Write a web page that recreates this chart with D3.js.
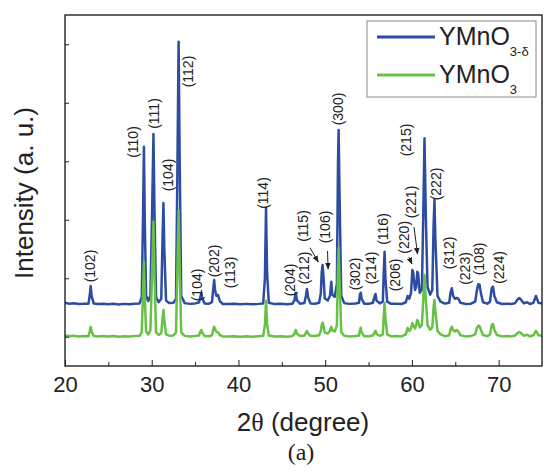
<!DOCTYPE html>
<html>
<head>
  <meta charset='utf-8'>
  <title>XRD YMnO3</title>
  <script src="https://cdnjs.cloudflare.com/ajax/libs/d3/7.8.5/d3.min.js"></script>
  <style>
    body { margin: 0; background: #fff; }
    text { font-family: "Liberation Sans", Arial, sans-serif; fill: #222; }
  </style>
</head>
<body>
  <svg width="544" height="473" id="chart"></svg>
  <script>

    // 2theta, intensity (a.u., already offset for stacking)
    const ymnoDelta = [
      [20.0,1080],[20.5,1065],[21.0,1072],[21.6,1058],[22.2,1066],[22.7,1062],
      [22.85,1200],[22.96,1367],[23.08,1190],[23.3,1070],
      [23.8,1058],[24.4,1066],[25.0,1055],[25.6,1064],[26.2,1052],[26.8,1062],[27.4,1056],[28.0,1066],[28.6,1070],
      [28.85,1180],[29.0,2600],[29.1,3749],[29.2,2500],[29.35,1200],
      [29.6,1110],[29.85,1200],[30.05,2700],[30.2,3966],[30.32,2600],[30.5,1180],
      [30.8,1090],[31.1,1150],[31.25,2200],[31.35,2786],[31.45,2000],[31.65,1120],
      [32.0,1075],[32.5,1080],[32.8,1150],[32.95,3200],[33.1,5544],[33.22,3600],[33.4,1200],
      [33.8,1075],[34.4,1062],[35.0,1070],[35.45,1085],[35.6,1180],[35.72,1248],[35.85,1150],[36.1,1070],
      [36.6,1066],[36.95,1090],[37.08,1300],[37.2,1470],[37.3,1300],[37.45,1200],[37.65,1214],[37.85,1110],[38.2,1060],
      [38.8,1058],[39.5,1064],[40.2,1056],[40.9,1062],[41.6,1055],[42.3,1062],[42.85,1070],[43.05,1500],[43.18,2701],[43.3,1600],[43.5,1080],
      [44.2,1058],[44.9,1064],[45.6,1055],[46.2,1064],[46.45,1120],[46.6,1253],[46.75,1120],[47.1,1066],
      [47.6,1075],[47.78,1200],[47.9,1316],[48.02,1180],[48.3,1070],[48.8,1065],[49.3,1080],
      [49.5,1250],[49.6,1600],[49.7,1726],[49.82,1500],[49.95,1160],[50.3,1120],
      [50.55,1200],[50.7,1441],[50.82,1220],[51.1,1180],[51.35,1400],[51.48,3500],[51.55,4034],[51.65,3000],[51.85,1200],
      [52.2,1075],[52.8,1062],[53.5,1068],[53.9,1080],[54.0,1220],[54.1,1253],[54.2,1150],[54.5,1066],
      [55.0,1062],[55.5,1080],[55.72,1200],[55.8,1231],[55.92,1120],[56.3,1070],[56.65,1100],[56.75,1600],[56.85,1954],[56.95,1500],[57.15,1100],
      [57.6,1062],[58.2,1066],[58.8,1060],[59.3,1090],[59.5,1197],[59.7,1150],[59.9,1250],[60.05,1641],[60.15,1600],[60.35,1300],[60.5,1350],
      [60.62,1612],[60.72,1580],[60.9,1250],[61.15,1300],[61.3,2500],[61.45,3893],[61.6,2600],[61.8,1350],[62.1,1220],[62.35,1300],[62.5,2400],[62.6,2838],[62.7,2200],[62.95,1200],[63.3,1100],
      [63.8,1066],[64.3,1080],[64.45,1250],[64.6,1328],[64.75,1200],[64.95,1150],[65.15,1162],[65.35,1150],[65.6,1080],
      [66.2,1060],[66.8,1066],[67.3,1100],[67.5,1300],[67.65,1397],[67.8,1390],[67.95,1250],[68.2,1090],
      [68.7,1066],[69.0,1100],[69.2,1330],[69.35,1356],[69.5,1200],[69.8,1090],
      [70.4,1060],[71.0,1066],[71.5,1060],[71.9,1075],[72.2,1140],[72.4,1162],[72.6,1130],[72.9,1072],[73.3,1090],[73.6,1060],[74.0,1080],[74.3,1197],[74.6,1080],[75.0,1070]
    ];

    const ymno = [
      [20.0,522],[20.5,508],[21.0,516],[21.6,505],[22.2,513],[22.7,510],
      [22.85,590],[22.96,667],[23.08,585],[23.3,515],
      [23.8,505],[24.4,512],[25.0,503],[25.6,511],[26.2,501],[26.8,509],[27.4,503],[28.0,511],[28.6,516],
      [28.85,580],[29.0,1250],[29.1,1778],[29.2,1200],[29.35,590],
      [29.6,540],[29.85,620],[30.05,1650],[30.2,2467],[30.32,1550],[30.5,575],
      [30.8,530],[31.1,560],[31.25,820],[31.35,957],[31.45,780],[31.65,540],
      [32.0,518],[32.5,522],[32.8,575],[32.95,1600],[33.1,2667],[33.22,1700],[33.4,575],
      [33.8,515],[34.4,506],[35.0,512],[35.45,520],[35.6,585],[35.72,615],[35.85,565],[36.1,512],
      [36.6,508],[36.95,525],[37.08,610],[37.2,672],[37.3,630],[37.45,585],[37.65,575],[37.85,530],[38.2,506],
      [38.8,503],[39.5,510],[40.2,502],[40.9,509],[41.6,501],[42.3,509],[42.85,516],[43.05,700],[43.18,1116],[43.3,720],[43.5,522],
      [44.2,504],[44.9,510],[45.6,502],[46.2,510],[46.45,550],[46.6,615],[46.75,550],[47.1,512],
      [47.6,520],[47.78,570],[47.9,598],[48.02,560],[48.3,515],[48.8,512],[49.3,525],
      [49.5,600],[49.6,700],[49.7,740],[49.82,680],[49.95,570],[50.3,555],
      [50.55,600],[50.7,672],[50.82,610],[51.1,590],[51.35,700],[51.48,1700],[51.55,2017],[51.65,1500],[51.85,580],
      [52.2,518],[52.8,506],[53.5,512],[53.9,522],[54.0,610],[54.1,655],[54.2,575],[54.5,510],
      [55.0,507],[55.5,522],[55.72,580],[55.8,603],[55.92,550],[56.3,514],[56.65,540],[56.75,850],[56.85,1082],[56.95,800],[57.15,540],
      [57.6,507],[58.2,511],[58.8,506],[59.3,540],[59.5,650],[59.7,600],[59.9,640],[60.05,735],[60.15,700],[60.35,640],[60.5,700],
      [60.62,786],[60.72,760],[60.9,660],[61.15,700],[61.3,1100],[61.45,1556],[61.6,1150],[61.8,700],[62.1,620],[62.35,660],[62.5,1000],[62.6,1128],[62.7,950],[62.95,600],[63.3,540],
      [63.8,510],[64.3,525],[64.45,620],[64.6,672],[64.75,610],[64.95,590],[65.15,615],[65.35,590],[65.6,525],
      [66.2,506],[66.8,512],[67.3,540],[67.5,650],[67.65,689],[67.8,680],[67.95,620],[68.2,530],
      [68.7,510],[69.0,540],[69.2,700],[69.35,718],[69.5,620],[69.8,530],
      [70.4,506],[71.0,512],[71.5,506],[71.9,520],[72.2,565],[72.4,581],[72.6,560],[72.9,518],[73.3,535],[73.6,506],[74.0,525],[74.3,598],[74.6,525],[75.0,515]
    ];

    // Miller index labels: text, 2theta, intensity of the label centre
    const peakLabels = [
      ["(102)",22.88,1709],["(110)",27.83,3829],["(111)",30.25,4316],["(104)",31.87,3265],
      ["(112)",34.17,5034],["(104)",35.2,1385],["(202)",37.17,1795],["(113)",39.09,1598],
      ["(114)",42.81,2957],["(204)",45.92,1470],["(212)",47.53,1675],["(115)",47.42,2393],
      ["(106)",49.95,2376],["(300)",51.49,4393],["(302)",53.41,1573],["(214)",55.33,1675],
      ["(116)",56.67,2342],["(206)",58.02,1556],["(220)",59.12,2200],["(221)",59.94,2803],
      ["(215)",59.37,3863],["(222)",62.74,3111],["(312)",64.27,1932],["(223)",66.08,1667],
      ["(108)",67.73,1829],["(224)",70.0,1684]
    ];

    // arrows: from [2theta, I] to [2theta, I]
    const arrows = [
      [[48.25,2022],[49.2,1778]],
      [[50.27,1966],[50.34,1658]],
      [[59.65,1863],[60.0,1744]],
      [[60.24,2376],[60.65,1914]]
    ];

    const xTicks = [20, 30, 40, 50, 60, 70];
    const xMinor = [25, 35, 45, 55, 65];
    const yTicks = [500, 1500, 2500, 3500, 4500, 5500];

    const blue = "#2d4da3";
    const green = "#66c144";

    const svg = d3.select("#chart");
    const m = { left: 65, top: 15, right: 542, bottom: 366 };

    const x = d3.scaleLinear().domain([20, 75]).range([m.left, m.right]);
    const y = d3.scaleLinear().domain([0, 6000]).range([m.bottom, m.top]);

    svg.append("clipPath").attr("id", "clip")
      .append("rect").attr("x", m.left).attr("y", m.top)
      .attr("width", m.right - m.left).attr("height", m.bottom - m.top);

    const line = d3.line().x(d => x(d[0])).y(d => y(d[1]));

    const plot = svg.append("g").attr("clip-path", "url(#clip)");
    plot.append("path").datum(ymnoDelta)
      .attr("d", line).attr("fill", "none")
      .attr("stroke", blue).attr("stroke-width", 2.5).attr("stroke-linejoin", "round");
    plot.append("path").datum(ymno)
      .attr("d", line).attr("fill", "none")
      .attr("stroke", green).attr("stroke-width", 2.5).attr("stroke-linejoin", "round");

    // axes (ticks inward)
    svg.append("g").attr("transform", `translate(0,${m.bottom})`)
      .call(d3.axisBottom(x).tickValues(xTicks).tickSize(-6).tickPadding(10).tickFormat(d3.format("d")))
      .call(g => g.select(".domain").remove())
      .call(g => g.selectAll("line").attr("stroke", "#222"))
      .call(g => g.selectAll("text").style("font-size", "22px").attr("fill", "#222"));
    svg.append("g").attr("transform", `translate(0,${m.bottom})`)
      .call(d3.axisBottom(x).tickValues(xMinor).tickSize(-4).tickFormat(""))
      .call(g => g.select(".domain").remove())
      .call(g => g.selectAll("line").attr("stroke", "#222"));
    svg.append("g").attr("transform", `translate(${m.left},0)`)
      .call(d3.axisLeft(y).tickValues(yTicks).tickSize(-4).tickFormat(""))
      .call(g => g.select(".domain").remove())
      .call(g => g.selectAll("line").attr("stroke", "#222"));

    svg.append("rect")
      .attr("x", m.left).attr("y", m.top)
      .attr("width", m.right - m.left).attr("height", m.bottom - m.top)
      .attr("fill", "none").attr("stroke", "#222").attr("stroke-width", 1.4);

    // peak labels
    svg.append("g").selectAll("text").data(peakLabels).join("text")
      .attr("transform", d => `translate(${x(d[1])},${y(d[2])}) rotate(-90)`)
      .attr("text-anchor", "middle").attr("dy", "0.35em")
      .style("font-size", "14px")
      .text(d => d[0]);

    svg.append("defs").append("marker")
      .attr("id", "head").attr("viewBox", "0 0 10 10")
      .attr("refX", 9).attr("refY", 5)
      .attr("markerWidth", 7).attr("markerHeight", 7)
      .attr("orient", "auto")
      .append("path").attr("d", "M0,1L10,5L0,9Z").attr("fill", "#222");

    svg.append("g").selectAll("line").data(arrows).join("line")
      .attr("x1", d => x(d[0][0])).attr("y1", d => y(d[0][1]))
      .attr("x2", d => x(d[1][0])).attr("y2", d => y(d[1][1]))
      .attr("stroke", "#222").attr("stroke-width", 1)
      .attr("marker-end", "url(#head)");

    // legend
    const lg = svg.append("g");
    lg.append("rect").attr("x", 367).attr("y", 21).attr("width", 169).attr("height", 76)
      .attr("fill", "#fff").attr("stroke", "#888").attr("stroke-width", 1);
    const legendItems = [[blue, "3-δ"], [green, "3"]];
    legendItems.forEach((d, i) => {
      const cy = 37 + i * 38;
      lg.append("line").attr("x1", 377).attr("x2", 435).attr("y1", cy).attr("y2", cy)
        .attr("stroke", d[0]).attr("stroke-width", 3);
      const t = lg.append("text").attr("x", 439).attr("y", cy + 8).style("font-size", "25px");
      t.append("tspan").text("YMnO");
      t.append("tspan").attr("dy", 11).style("font-size", "13px").text(d[1]);
    });

    // axis titles
    svg.append("text")
      .attr("transform", "translate(33,193) rotate(-90)")
      .attr("text-anchor", "middle")
      .style("font-size", "26px")
      .text("Intensity (a. u.)");

    const xt = svg.append("text").attr("x", 303).attr("y", 431)
      .attr("text-anchor", "middle").style("font-size", "26px");
    xt.append("tspan").text("2");
    xt.append("tspan").style("font-family", "Liberation Serif, serif").text("θ");
    xt.append("tspan").text(" (degree)");

    svg.append("text").attr("x", 301).attr("y", 460)
      .attr("text-anchor", "middle")
      .style("font-family", "Liberation Serif, serif").style("font-size", "24px")
      .text("(a)");

  </script>
</body>
</html>
